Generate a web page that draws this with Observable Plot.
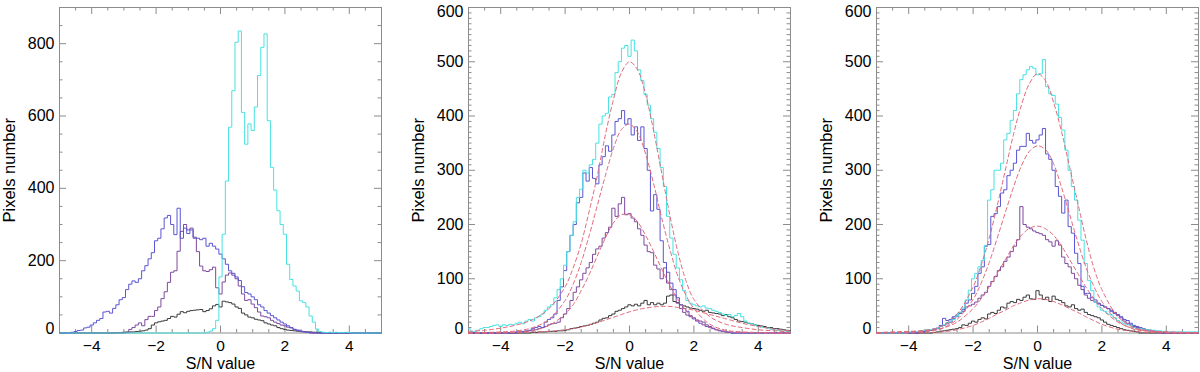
<!DOCTYPE html>
<html><head><meta charset="utf-8">
<script src="https://cdn.jsdelivr.net/npm/d3@7"></script>
<script src="https://cdn.jsdelivr.net/npm/@observablehq/plot@0.6"></script>
<style>
body{margin:0;background:#fff;}
#wrap{position:relative;width:1200px;height:372px;overflow:hidden;}
.panel{position:absolute;top:0;}
</style></head><body><div id="wrap"></div>
<script>
// ---------- tick labels ----------
const xTickLabels = [-4, -2, 0, 2, 4];
const p1YTickLabels = [0, 200, 400, 600, 800];
const p23YTickLabels = [0, 100, 200, 300, 400, 500, 600];

// ---------- histogram series (bin centres every 0.1, first centre given) ----------
// Panel 1
const p1CyanStart = -0.4;
const p1Cyan = [2,5,12,35,155,273,420,569,670,804,835,610,522,578,560,625,712,790,827,587,458,395,338,300,273,190,148,130,116,89,84,72,47,30,11,4,2,1,2,1,2,1,1,2,1];
const p1BlueStart = -4.6;
const p1Blue = [2,4,7,8,14,16,22,28,35,40,58,60,55,68,78,92,98,120,135,144,140,150,172,186,205,222,255,262,288,318,325,300,272,345,262,290,275,285,262,262,258,262,240,248,240,232,218,205,190,172,165,155,145,128,112,108,100,92,78,72,62,55,48,42,36,30,25,20,15,10,7,5,3,2,1];
const p1PurpleStart = -2.9;
const p1Purple = [3,10,15,22,28,20,37,46,46,62,72,95,114,140,168,172,226,281,300,285,290,265,225,185,172,170,175,182,125,108,141,160,166,160,150,130,108,90,92,80,70,58,47,45,42,35,30,26,22,20,16,14,10,8,5,3,2];
const p1BlackStart = -3.2;
const p1Black = [1,1,2,2,3,3,4,5,6,8,12,22,28,31,33,35,40,46,44,52,59,56,60,62,63,64,65,59,62,67,75,79,72,88,86,84,80,72,68,55,50,44,42,38,36,34,28,25,22,20,15,12,10,8,7,6,5,4,4,3,3,2,2];

// Panel 2
const p2CyanStart = -5.0;
const p2Cyan = [8,3,3,5,8,10,10,12,14,15,12,15,14,16,15,18,20,17,22,25,22,28,30,35,42,48,52,65,80,100,125,150,180,205,250,265,300,295,310,320,350,385,400,405,435,440,480,500,525,530,510,540,520,485,465,440,420,395,370,340,305,270,215,175,145,120,98,78,60,55,52,50,48,50,46,45,42,40,38,35,33,34,30,32,36,30,22,18,17,15,12,11,10,9,7,6,5,4,4,3,2];
const p2BlueStart = -3.5;
const p2Blue = [2,3,3,4,5,8,10,12,10,20,25,28,35,60,85,115,150,180,200,240,250,295,280,305,285,275,310,325,345,335,365,390,395,410,385,395,365,380,355,380,340,300,225,255,228,170,130,112,92,80,65,52,45,40,32,28,22,18,15,12,10,8,6,5,3,2,1];
const p2PurpleStart = -3.4;
const p2Purple = [1,2,3,4,5,6,8,10,12,15,17,18,20,28,35,45,60,75,85,98,110,120,130,145,155,160,175,185,195,230,215,238,250,218,220,212,205,192,180,162,150,148,125,118,100,120,92,80,70,55,45,38,33,30,26,24,22,20,15,12,9,6,4,3,2,1];
const p2BlackStart = -3.0;
const p2Black = [1,1,2,2,2,3,3,3,4,4,5,6,8,9,10,12,13,14,16,18,20,24,27,28,32,35,40,42,45,48,52,50,53,50,55,60,52,56,52,55,52,55,68,70,58,56,52,50,48,46,45,44,42,40,42,38,37,36,35,32,34,30,28,25,22,21,20,18,17,15,14,13,12,10,10,8,8,7,6,5,4];

// Panel 3
const p3CyanStart = -4.0;
const p3Cyan = [2,2,3,3,4,5,6,6,8,9,12,15,19,22,25,31,38,46,61,79,100,110,122,134,161,245,264,300,300,313,356,368,392,410,441,467,476,485,491,488,476,478,504,454,441,438,422,397,374,337,300,270,245,208,171,128,97,78,57,48,42,40,35,33,28,23,20,17,15,14,10,8,8,7,6,5,5,4,4,3,3,2,2,2,2,2,2,2,2,2,2];
const p3BlueStart = -3.6;
const p3Blue = [2,3,4,5,6,8,14,27,23,25,30,33,38,43,55,61,73,86,110,122,160,163,215,220,233,258,264,290,300,313,337,344,344,368,355,350,356,365,377,330,320,300,270,252,221,245,196,184,147,128,86,73,73,65,61,55,51,48,45,40,36,34,30,25,23,18,14,12,10,8,6,5,4,3,2];
const p3PurpleStart = -3.6;
const p3Purple = [2,3,4,5,7,9,12,14,17,20,27,30,36,40,48,50,53,57,64,70,75,86,95,104,115,122,132,140,150,160,172,233,200,195,192,188,185,183,180,172,168,160,170,162,140,128,122,110,100,88,80,70,64,60,57,54,51,48,45,42,38,32,28,22,18,15,12,10,8,6,5,4,3,2];
const p3BlackStart = -3.2;
const p3Black = [1,2,3,4,5,6,7,8,10,15,14,18,22,20,25,28,26,35,38,36,42,48,46,55,58,56,62,60,66,70,63,62,78,70,62,66,58,68,62,60,56,50,48,52,45,42,44,38,34,32,30,28,24,20,16,14,12,10,8,6,5,4,3,2];

// ---------- fitted curves (dashed), sampled at fitX ----------
const fitX = [-5,-4.5,-4,-3.5,-3,-2.5,-2,-1.75,-1.5,-1.25,-1,-0.75,-0.5,-0.25,0,0.25,0.5,0.75,1,1.25,1.5,1.75,2,2.5,3,3.5,4,4.5,5];
const p2FitCyan   = [3,5,9,15,25,45,85,120,165,225,290,365,430,480,500,485,440,372,295,218,150,97,62,30,16,10,6,4,2];
const p2FitBlue   = [0,1,2,4,10,25,60,90,130,180,235,290,340,375,385,370,330,275,212,155,105,70,45,16,5,2,1,0,0];
const p2FitPurple = [0,0,1,2,5,14,35,52,78,108,142,175,203,218,218,205,180,150,118,88,62,42,27,10,3,1,0,0,0];
const p2FitBlack  = [0,0,0,1,2,3,6,8,11,15,19,24,29,34,39,43,46,48,49,49,47,45,42,34,26,18,12,7,4];
const p3FitCyan   = [1,2,3,5,12,35,85,125,175,235,300,365,420,460,478,465,425,370,305,240,175,120,80,30,10,4,2,1,1];
const p3FitBlue   = [0,1,2,3,8,25,62,92,130,175,222,268,308,335,345,338,312,268,218,168,122,86,58,22,7,3,1,0,0];
const p3FitPurple = [0,1,2,4,8,20,45,63,85,110,135,160,180,193,197,192,180,160,135,110,85,63,45,20,8,4,2,1,0];
const p3FitBlack  = [0,0,0,1,2,6,14,20,27,35,42,50,56,61,63,62,58,52,45,38,30,23,16,7,3,1,0,0,0];

// ---------- styling ----------
const COLORS = {cyan: "#48e2e2", blue: "#5a55d4", purple: "#7d4a9e", black: "#3a3a3a"};
const FIT_COLOR = "#e0687a";
const FRAME = "#8c8c8c";
const FONT = "'Liberation Sans', Arial, Helvetica, sans-serif";
const fmt = d3.format("d");

function histPoints(start, values) {
  const pts = [];
  for (let i = 0; i <= 100; i++) {
    const x = Math.round(-50 + i) / 10;
    const j = Math.round((x - start) * 10);
    pts.push({x, y: (j >= 0 && j < values.length) ? values[j] : 0});
  }
  return pts;
}
function fitPoints(values) { return fitX.map((x, i) => ({x, y: values[i]})); }

function makePanel({left, width, yMax, yLabels, yMinorStep, hists, fits}) {
  const mL = 59, mT = 7, mB = 39.5, innerW = 322;
  const mR = width - mL - innerW;
  const innerH = 372 - mT - mB;
  const majLen = 7, minLen = 3.5;
  const xMinor = d3.range(-5, 5.001, 0.5).filter(v => Math.abs(v % 2) > 1e-9);
  const xMajor = d3.range(-4, 4.001, 2);
  const yMajorStep = yLabels[1] - yLabels[0];
  const yMajor = d3.range(0, yMax + 1e-9, yMajorStep);
  const yMinor = d3.range(0, yMax + 1e-9, yMinorStep).filter(v => Math.abs(v % yMajorStep) > 1e-9);
  const lastLabel = yLabels[yLabels.length - 1];
  const midLabels = yLabels.filter(v => v !== 0 && !(v === lastLabel && lastLabel === yMax));
  const topLabels = yLabels.filter(v => v === lastLabel && lastLabel === yMax);
  const tk = {stroke: FRAME, strokeWidth: 1};
  const yl = {y: d => d, text: d => fmt(d), frameAnchor: "left", textAnchor: "end", lineAnchor: "middle", dx: -5, fontSize: 16, fill: "black"};
  const marks = [
    // inward ticks on all four sides
    Plot.tickX(xMajor, {x: d => d, insetTop: innerH - majLen, ...tk}),
    Plot.tickX(xMinor, {x: d => d, insetTop: innerH - minLen, ...tk}),
    Plot.tickX(xMajor, {x: d => d, insetBottom: innerH - majLen, ...tk}),
    Plot.tickX(xMinor, {x: d => d, insetBottom: innerH - minLen, ...tk}),
    Plot.tickY(yMajor, {y: d => d, insetRight: innerW - majLen, ...tk}),
    Plot.tickY(yMinor, {y: d => d, insetRight: innerW - minLen, ...tk}),
    Plot.tickY(yMajor, {y: d => d, insetLeft: innerW - majLen, ...tk}),
    Plot.tickY(yMinor, {y: d => d, insetLeft: innerW - minLen, ...tk}),
    Plot.frame({stroke: FRAME, strokeWidth: 1}),
    // tick labels
    Plot.text(xTickLabels, {x: d => d, text: d => fmt(d), frameAnchor: "bottom", lineAnchor: "middle", dy: 13, fontSize: 15.5, fill: "black"}),
    Plot.text(midLabels, yl),
    Plot.text([0], {...yl, dy: -4.5}),
  ];
  if (topLabels.length) marks.push(Plot.text(topLabels, {...yl, dy: 4.5}));
  for (const h of hists) marks.push(Plot.line(histPoints(h.start, h.values), {x: "x", y: "y", curve: "step", stroke: h.color, strokeWidth: 1}));
  for (const f of fits) marks.push(Plot.line(fitPoints(f), {x: "x", y: "y", curve: "catmull-rom", stroke: FIT_COLOR, strokeWidth: 1, strokeDasharray: "4,3"}));
  marks.push(Plot.text(["S/N value"], {text: d => d, frameAnchor: "bottom", dy: 30.8, lineAnchor: "middle", fontSize: 16, fill: "black"}));
  marks.push(Plot.text(["Pixels number"], {text: d => d, frameAnchor: "left", dx: -49.5, rotate: -90, lineAnchor: "middle", textAnchor: "middle", fontSize: 16.5, fill: "black"}));
  const svg = Plot.plot({
    width, height: 372,
    marginLeft: mL, marginRight: mR, marginTop: mT, marginBottom: mB,
    x: {domain: [-5, 5], label: null, axis: null},
    y: {domain: [0, yMax], label: null, axis: null},
    style: {fontFamily: FONT, fontSize: "16px", color: "black", background: "transparent", overflow: "visible"},
    marks
  });
  const div = document.createElement("div");
  div.className = "panel";
  div.style.left = left + "px";
  div.appendChild(svg);
  document.getElementById("wrap").appendChild(div);
}

makePanel({left: 0, width: 400, yMax: 900, yLabels: p1YTickLabels, yMinorStep: 50,
  hists: [
    {start: p1BlackStart, values: p1Black, color: COLORS.black},
    {start: p1PurpleStart, values: p1Purple, color: COLORS.purple},
    {start: p1BlueStart, values: p1Blue, color: COLORS.blue},
    {start: p1CyanStart, values: p1Cyan, color: COLORS.cyan}
  ], fits: []});
makePanel({left: 409, width: 400, yMax: 600, yLabels: p23YTickLabels, yMinorStep: 10,
  hists: [
    {start: p2BlackStart, values: p2Black, color: COLORS.black},
    {start: p2PurpleStart, values: p2Purple, color: COLORS.purple},
    {start: p2BlueStart, values: p2Blue, color: COLORS.blue},
    {start: p2CyanStart, values: p2Cyan, color: COLORS.cyan}
  ], fits: [p2FitBlack, p2FitPurple, p2FitBlue, p2FitCyan]});
makePanel({left: 817, width: 383, yMax: 600, yLabels: p23YTickLabels, yMinorStep: 10,
  hists: [
    {start: p3BlackStart, values: p3Black, color: COLORS.black},
    {start: p3PurpleStart, values: p3Purple, color: COLORS.purple},
    {start: p3BlueStart, values: p3Blue, color: COLORS.blue},
    {start: p3CyanStart, values: p3Cyan, color: COLORS.cyan}
  ], fits: [p3FitBlack, p3FitPurple, p3FitBlue, p3FitCyan]});
</script>
</body></html>
